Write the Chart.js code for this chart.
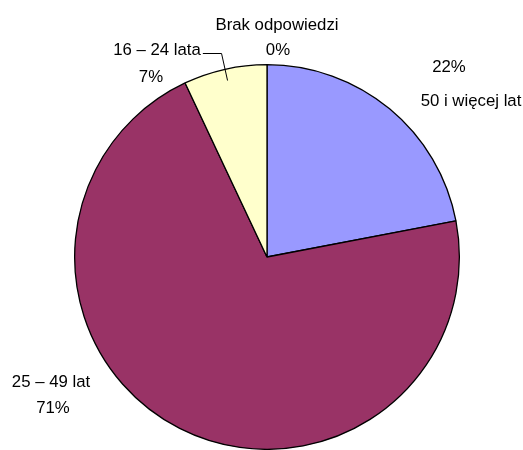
<!DOCTYPE html>
<html>
<head>
<meta charset="utf-8">
<script src="https://cdn.jsdelivr.net/npm/chart.js@4/dist/chart.umd.min.js"></script>
<style>
  html,body{margin:0;padding:0;background:#fff}
  #wrap{width:523px;height:450px;position:relative}
</style>
</head>
<body>
<div id="wrap"><canvas id="pie" width="523" height="450"></canvas></div>
<script>
// data
const categories = ['50 i więcej lat', '25 – 49 lat', '16 – 24 lata', 'Brak odpowiedzi'];
const values = [22, 71, 7, 0];
const pctLabels = ['22%', '71%', '7%', '0%'];
const sliceColors = ['#9999FF', '#993366', '#FFFFCC', '#FFFFFF'];

// where each label sits (name, then percentage)
const labelLayout = [
  {nx:471, ny:106, px:449, py:72},
  {nx:51, ny:387, px:53, py:413},
  {nx:157, ny:55, px:151, py:82, leader:true},
  {nx:277, ny:30, px:278, py:55}
];

const labelPlugin = {
  id:'pieLabels',
  afterDraw(chart){
    const ctx = chart.ctx;
    const meta = chart.getDatasetMeta(0);
    ctx.save();
    ctx.font = '16.8px "Liberation Sans", Arial, sans-serif';
    ctx.fillStyle = '#000';
    ctx.textAlign = 'center';
    ctx.textBaseline = 'alphabetic';
    categories.forEach((name,i)=>{
      const L = labelLayout[i];
      ctx.fillText(name, L.nx, L.ny);
      ctx.fillText(pctLabels[i], L.px, L.py);
      if(L.leader){
        const arc = meta.data[i];
        const mid = (arc.startAngle+arc.endAngle)/2;
        const r = arc.outerRadius*0.94;
        const ex = arc.x + Math.cos(mid)*r, ey = arc.y + Math.sin(mid)*r;
        const w = ctx.measureText(name).width;
        const sx = L.nx + w/2 + 2, sy = L.ny - 2;
        ctx.strokeStyle = '#000';
        ctx.lineWidth = 1;
        ctx.beginPath();
        ctx.moveTo(sx, sy+0.5);
        ctx.lineTo(ex-6, sy+0.5);
        ctx.lineTo(ex, ey);
        ctx.stroke();
      }
    });
    ctx.restore();
  }
};

new Chart(document.getElementById('pie'), {
  type:'pie',
  data:{labels:categories, datasets:[{data:values, backgroundColor:sliceColors,
    borderColor:'#000', borderWidth:1.3}]},
  options:{responsive:false, animation:false,
    layout:{padding:{left:73, right:62, top:64, bottom:0}},
    plugins:{legend:{display:false}, tooltip:{enabled:false}}},
  plugins:[labelPlugin]
});
</script>
</body>
</html>
